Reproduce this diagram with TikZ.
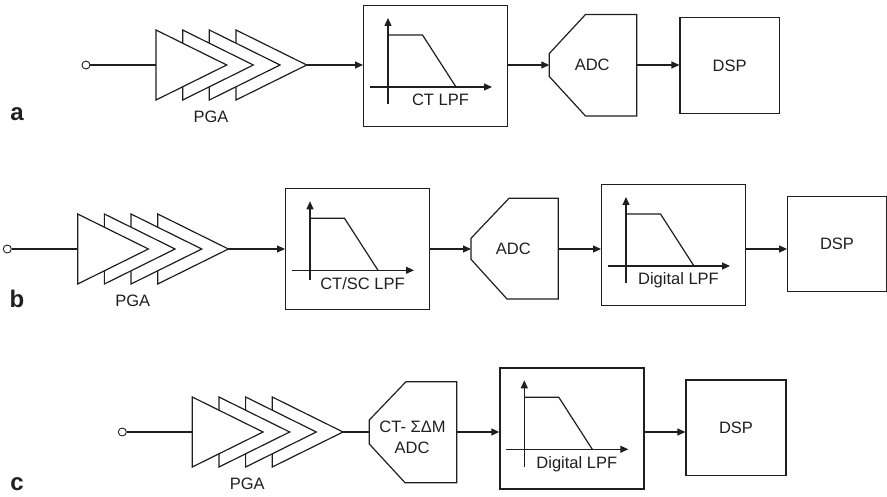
\documentclass[tikz,border=0pt]{standalone}
\usepackage{fontspec}
\setmainfont{Liberation Sans}
\usetikzlibrary{arrows.meta}
\tikzset{
  sig/.style={line width=1.2pt, draw=black!88},
  arr/.style={sig, -{Triangle[length=8pt,width=7pt]}},
  blk/.style={draw=black!88, line width=1.2pt, fill=white, inner sep=0pt},
  lbl/.style={font=\fontsize{16.5}{19}\selectfont, text=black!88, inner sep=0pt},
  tag/.style={font=\bfseries\fontsize{24}{28}\selectfont, text=black!88, inner sep=0pt},
  port/.style={circle, draw=black!88, fill=white, inner sep=0pt, minimum size=8pt, line width=0.9pt},
}
% PGA: name, left x, row y
\newcommand\pgaamp[3]{%
  \foreach \k in {3,2,1,0} {
    \draw[sig, fill=white] ({#2+\k*26.67},{#3-35}) -- ({#2+\k*26.67+70.7},#3) -- ({#2+\k*26.67},{#3+35}) -- cycle;
  }
  \coordinate (#1in) at (#2,#3);
  \coordinate (#1out) at ({#2+3*26.67+70.7},#3);
  \node[lbl, anchor=base] (#1lbl) at ({#2+55},{#3+57.7}) {PGA};
}
% LPF box: name, top-left x, top-left y, label, vertical axis bottom offset
\newcommand\lpfbox[5]{%
  \node[blk, minimum width=144pt, minimum height=121pt, anchor=north west] (#1) at (#2,#3) {};
  \draw[arr] ({#2+25},{#3+#5}) -- ({#2+25},{#3+13});
  \draw[arr] ({#2+7},{#3+82}) -- ({#2+129},{#3+82});
  \draw[sig] ({#2+25},{#3+30}) -- ({#2+59.5},{#3+30}) -- ({#2+93},{#3+82});
  \node[lbl, anchor=base] (#1lbl) at ({#2+77.5},{#3+101}) {#4};
}
\begin{document}
\begin{tikzpicture}[x=1pt,y=-1pt]
\useasboundingbox (0,0) rectangle (887,497);

% ---------------- row a ----------------
\node[tag] (taga) at (17,113.7) {a};
\node[port] (ina) at (86,65) {};
\pgaamp{pgaa}{156}{65}
\draw[sig] (ina) -- (pgaain);
\lpfbox{lpfa}{363}{5}{CT LPF}{99}
\draw[arr] (pgaaout) -- (pgaaout -| lpfa.west);
\draw[sig] (549.3,53.5) -- (585.5,14.5) -- (636.7,14.5) -- (636.7,116) -- (585.5,116) -- (549.3,76.5) -- cycle;
\coordinate (adcain) at (549.3,65);
\coordinate (adcaout) at (636.7,65);
\node[lbl] (adcalbl) at (592.2,65) {ADC};
\draw[arr] (lpfa.east |- adcain) -- (adcain);
\node[blk, lbl, minimum width=99.3pt, minimum height=95.6pt] (dspa) at (729.7,65.5) {DSP};
\draw[arr] (adcaout) -- (adcaout -| dspa.west);

% ---------------- row b ----------------
\node[tag] (tagb) at (17,299) {b};
\node[port] (inb) at (7.3,249) {};
\pgaamp{pgab}{77.7}{249}
\draw[sig] (inb) -- (pgabin);
\lpfbox{lpfb}{285}{188.3}{CT/SC LPF}{92}
\draw[arr] (pgabout) -- (pgabout -| lpfb.west);
\draw[sig] (471,238.3) -- (509,198.3) -- (558.3,198.3) -- (558.3,299) -- (507,299) -- (471,259.3) -- cycle;
\coordinate (adcbin) at (471,249);
\coordinate (adcbout) at (558.3,249);
\node[lbl] (adcblbl) at (513.3,249) {ADC};
\draw[arr] (lpfb.east |- adcbin) -- (adcbin);
\lpfbox{dlpfb}{601}{184}{Digital LPF}{99}
\draw[arr] (adcbout) -- (adcbout -| dlpfb.west);
\node[blk, lbl, minimum width=98.6pt, minimum height=95pt] (dspb) at (837,244.2) {DSP};
\draw[arr] (dlpfb.east |- adcbout) -- (adcbout -| dspb.west);

% ---------------- row c ----------------
\node[tag] (tagc) at (17,484) {c};
\node[port] (inc) at (122.3,432) {};
\pgaamp{pgac}{192.3}{432}
\draw[sig] (inc) -- (pgacin);
\draw[sig] (369.3,420) -- (406,381.7) -- (456.7,381.7) -- (456.7,482.7) -- (405,482.7) -- (369.3,444) -- cycle;
\coordinate (adccin) at (369.3,432);
\coordinate (adccout) at (456.7,432);
\node[lbl] (adcclbla) at (412.5,426.7) {CT- ΣΔM};
\node[lbl] (adcclblb) at (412,448.3) {ADC};
\draw[sig] (pgacout) -- (adccin);
\lpfbox{dlpfc}{499.3}{367.3}{Digital LPF}{100}
\draw[arr] (adccout) -- (adccout -| dlpfc.west);
\node[blk, lbl, minimum width=100pt, minimum height=95.7pt] (dspc) at (736,427.9) {DSP};
\draw[arr] (dlpfc.east |- adccout) -- (adccout -| dspc.west);
\end{tikzpicture}
\end{document}
